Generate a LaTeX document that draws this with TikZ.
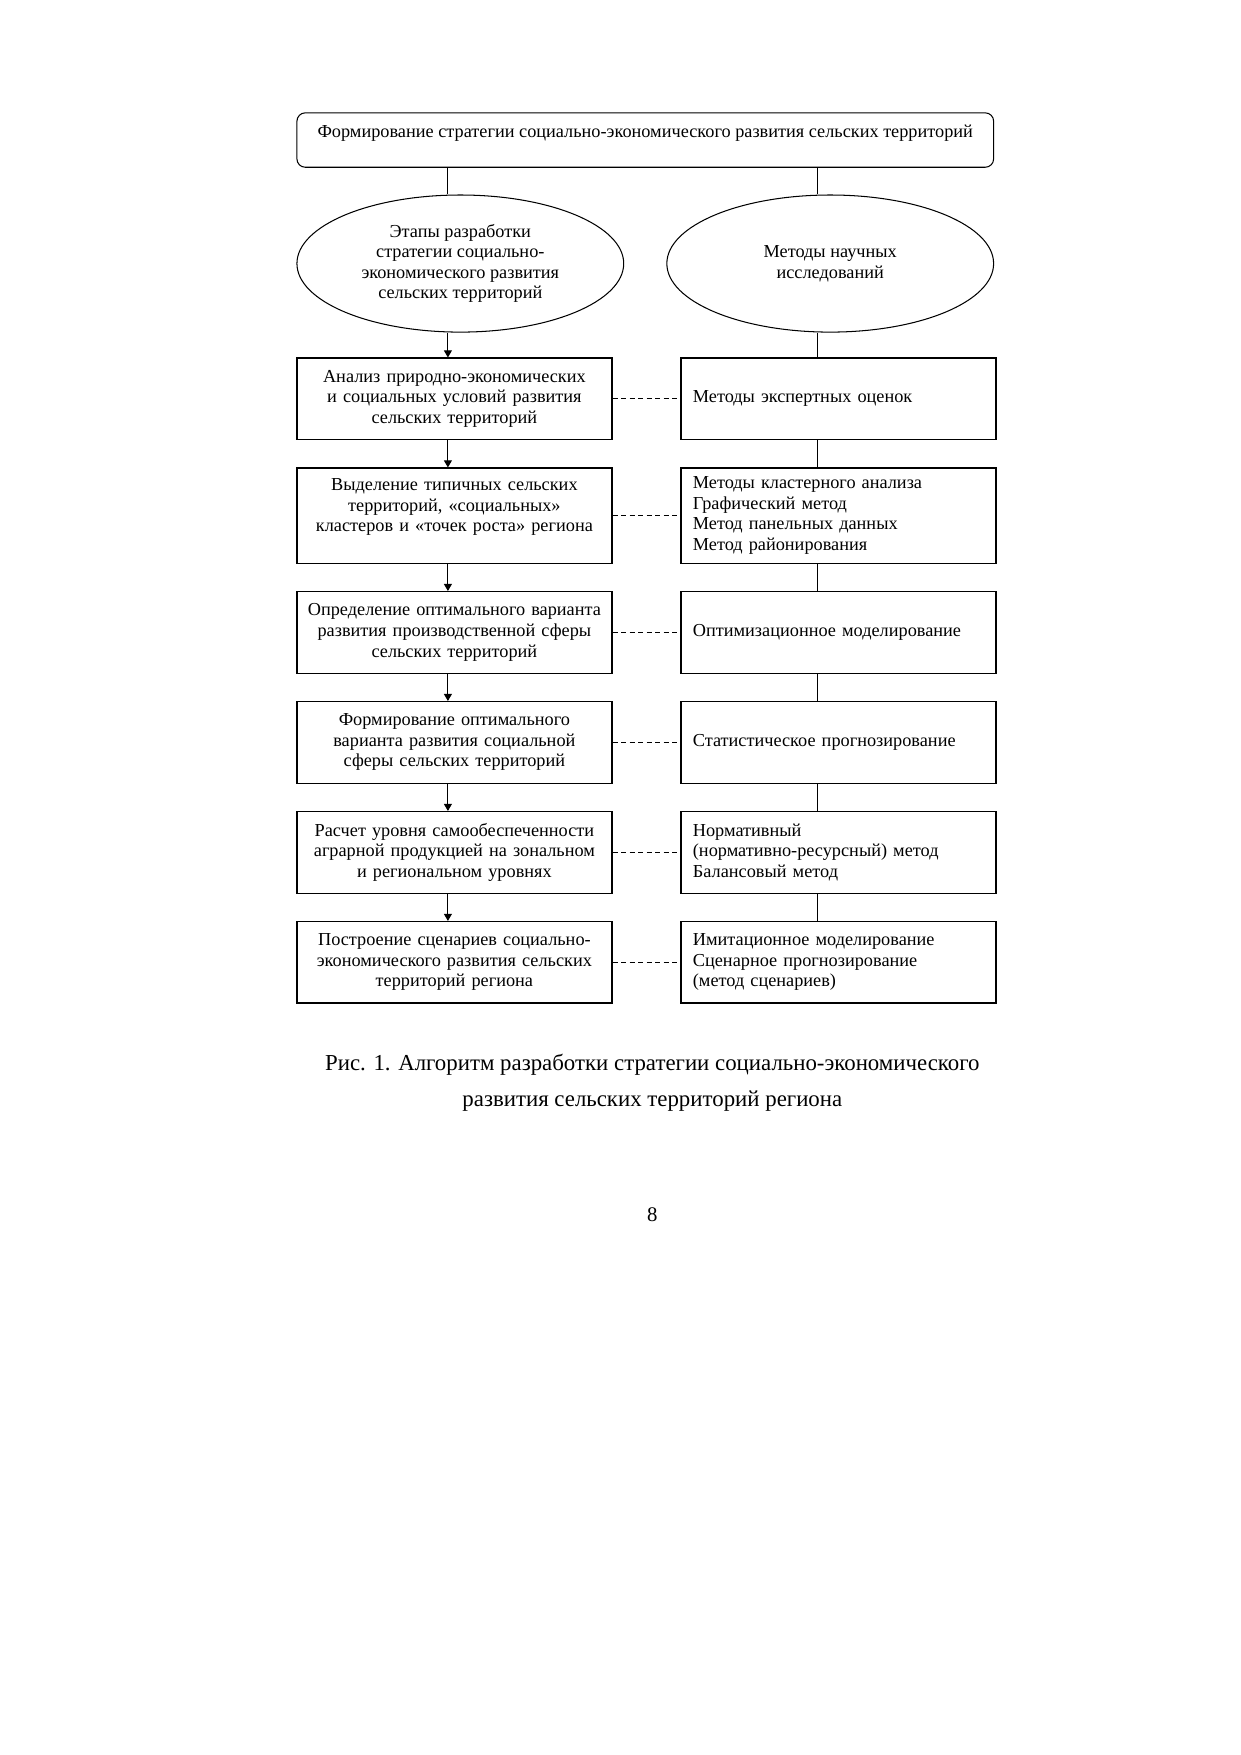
\documentclass[tikz,border=0pt]{standalone}
\usepackage{fontspec}
\setmainfont{Liberation Serif}
\usetikzlibrary{positioning,shapes.geometric,arrows.meta}

\begin{document}
\begin{tikzpicture}[
  font=\fontsize{8.8}{9.9}\selectfont,
  topbox/.style={draw, line width=0.5pt, rounded corners=4pt, minimum width=11.79cm,
    inner xsep=0pt, inner ysep=0.08cm, text height=0.33cm, text depth=0.43cm},
  oval/.style={draw, ellipse, line width=0.5pt, minimum width=5.53cm, minimum height=2.32cm,
    align=center, inner sep=0pt},
  stage/.style={draw, line width=0.6pt, minimum width=5.33cm, minimum height=1.38cm,
    text width=5.2cm, align=center, inner xsep=0pt, inner ysep=0pt},
  method/.style={draw, line width=0.6pt, minimum width=5.33cm, minimum height=1.38cm,
    text width=4.93cm, align=left, inner xsep=0.2cm, inner ysep=0pt},
  link/.style={line width=0.5pt},
  arrow/.style={line width=0.5pt, -{Triangle[length=1.2mm, width=1.35mm]}},
  dashlink/.style={line width=0.5pt, dash pattern=on 2.5pt off 1.6pt},
]
  \useasboundingbox (0,0) rectangle (21,-29.7);

  % Top box
  \node[topbox] (strat) at (10.92,-2.37)
    {Формирование стратегии социально-экономического развития сельских территорий};

  % Two ovals
  \node[oval] (etapy) at (7.79,-4.46)
    {Этапы разработки\\стратегии социально-\\экономического развития\\сельских территорий};
  \node[oval] (metody) at (14.05,-4.46) {Методы научных\\исследований};

  % Columns of the connectors
  \coordinate (colL) at (7.58,0);
  \coordinate (colR) at (13.84,0);

  % Stages (left)
  \node[stage] (s1) at (7.69,-6.75)
    {Анализ природно-экономических\\и социальных условий развития\\сельских территорий};
  \node[stage, minimum height=1.61cm, below=0.46cm of s1] (s2)
    {Выделение типичных сельских\\территорий, «социальных»\\кластеров и «точек роста» региона\\\mbox{}};
  \node[stage, below=0.46cm of s2] (s3)
    {Определение оптимального варианта\\развития производственной сферы\\сельских территорий};
  \node[stage, below=0.46cm of s3] (s4)
    {Формирование оптимального\\варианта развития социальной\\сферы сельских территорий};
  \node[stage, below=0.46cm of s4] (s5)
    {Расчет уровня самообеспеченности\\аграрной продукцией на зональном\\и региональном уровнях};
  \node[stage, below=0.46cm of s5] (s6)
    {Построение сценариев социально-\\экономического развития сельских\\территорий региона};

  % Methods (right)
  \node[method, right=1.15cm of s1] (m1) {Методы экспертных оценок};
  \node[method, minimum height=1.61cm, right=1.15cm of s2] (m2)
    {Методы кластерного анализа\\Графический метод\\Метод панельных данных\\Метод районирования};
  \node[method, right=1.15cm of s3] (m3) {Оптимизационное моделирование};
  \node[method, right=1.15cm of s4] (m4) {Статистическое прогнозирование};
  \node[method, right=1.15cm of s5] (m5)
    {Нормативный\\(нормативно-ресурсный) метод\\Балансовый метод};
  \node[method, right=1.15cm of s6] (m6)
    {Имитационное моделирование\\Сценарное прогнозирование\\(метод сценариев)};

  % Connectors
  \draw[link] (strat.south -| colL) -- (etapy.north -| colL);
  \draw[link] (strat.south -| colR) -- (metody.north -| colR);
  \draw[arrow] (etapy.south -| colL) -- (s1.north -| colL);
  \draw[link] (metody.south -| colR) -- (m1.north -| colR);
  \foreach \a/\b in {1/2,2/3,3/4,4/5,5/6} {
    \draw[arrow] (s\a.south -| colL) -- (s\b.north -| colL);
    \draw[link] (m\a.south -| colR) -- (m\b.north -| colR);
  }
  \foreach \i in {1,...,6}
    \draw[dashlink] (s\i) -- (m\i);

  % Caption and page number
  \node[font=\fontsize{11}{17.2}\selectfont, align=center] (caption) at (11.04,-18.32)
    {Рис. 1. Алгоритм разработки стратегии социально-экономического\\развития сельских территорий региона};
  \node[font=\fontsize{10}{12}\selectfont] (pagenum) at (11.04,-20.56) {8};
\end{tikzpicture}
\end{document}
